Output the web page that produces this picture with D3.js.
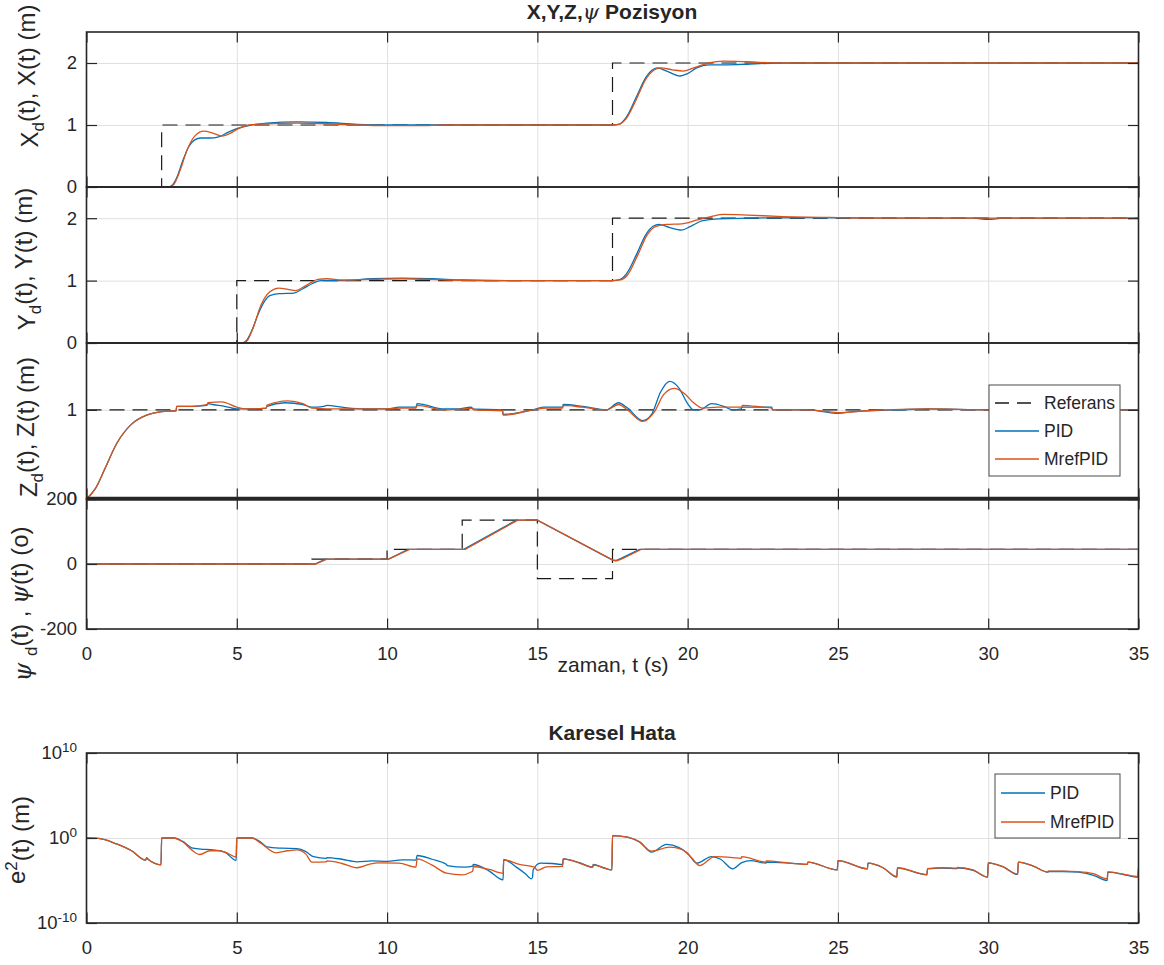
<!DOCTYPE html>
<html>
<head>
<meta charset="utf-8">
<script src="https://cdn.jsdelivr.net/npm/d3@7"></script>
<style>
  html, body { margin: 0; padding: 0; background: #fff; }
  svg { display: block; }
  text { font-family: "Liberation Sans", Arial, Helvetica, sans-serif; fill: #262626; }
</style>
</head>
<body>
<svg id="chart" width="1164" height="965"></svg>
<script>
// ---------------- data ----------------
const xTickVals = [0, 5, 10, 15, 20, 25, 30, 35];

// reference (step) signals: change times and values
const tRefX = [0, 2.5, 17.5, 35];            const refX = [0, 1, 2, 2];
const tRefY = [0, 5, 17.5, 35];              const refY = [0, 1, 2, 2];
const tRefZ = [0, 35];                       const refZ = [1, 1];
const tRefPsi = [0, 7.5, 10, 12.5, 15, 17.5, 35];
const refPsi  = [0, 15, 45, 135, -45, 45, 45];

// X position [t (s), m]
const xPID = [[0,0],[2.7,0],[2.85,0.03],[3.0,0.15],[3.2,0.42],[3.4,0.65],[3.6,0.76],[3.8,0.79],[4.1,0.79],[4.4,0.81],[4.7,0.88],[5.0,0.94],[5.4,0.99],[6.0,1.03],[7.0,1.05],[8.0,1.04],[9.0,1.01],[10,1.0],[12,1.0],[17.5,1.0],[17.7,1.01],[17.95,1.12],[18.3,1.46],[18.6,1.76],[18.8,1.88],[19.0,1.92],[19.3,1.87],[19.75,1.79],[20.0,1.83],[20.3,1.92],[20.7,1.97],[21.2,1.97],[22.0,1.98],[23,2.0],[26,2.0],[29,2.0],[35,2.0]];
const xMref = [[0,0],[2.75,0],[2.9,0.04],[3.1,0.25],[3.35,0.6],[3.6,0.82],[3.9,0.9],[4.2,0.87],[4.5,0.82],[4.8,0.87],[5.0,0.93],[5.4,1.0],[6.0,1.02],[7,1.03],[8,1.02],[9,1.0],[10,0.99],[11,0.99],[12,1.0],[17.5,1.0],[17.7,1.01],[17.95,1.1],[18.3,1.42],[18.6,1.73],[18.9,1.89],[19.1,1.92],[19.5,1.89],[19.85,1.87],[20.2,1.92],[20.7,2.0],[21.2,2.03],[22,2.02],[23,2.0],[35,2.0]];

// Y position [t (s), m]
const yPID = [[0,0],[5.15,0],[5.3,0.03],[5.5,0.2],[5.7,0.45],[5.9,0.65],[6.1,0.76],[6.4,0.79],[6.9,0.8],[7.2,0.87],[7.5,0.95],[7.8,1.0],[8.5,1.0],[9.5,1.03],[10.5,1.04],[11.5,1.03],[12.5,1.01],[14,1.0],[17.5,1.0],[17.7,1.01],[17.95,1.1],[18.3,1.42],[18.6,1.73],[18.85,1.87],[19.05,1.9],[19.4,1.85],[19.8,1.81],[20.1,1.87],[20.5,1.96],[21,1.99],[22,2.0],[24,2.01],[27,2.0],[29.5,2.0],[30,1.98],[30.5,2.0],[35,2.0]];
const yMref = [[0,0],[5.2,0],[5.35,0.04],[5.55,0.25],[5.8,0.6],[6.1,0.82],[6.4,0.88],[6.7,0.86],[6.95,0.84],[7.3,0.92],[7.7,1.02],[8.0,1.03],[8.5,1.01],[9.5,1.02],[10.5,1.03],[12,1.01],[14,1.0],[17.5,1.0],[17.75,1.01],[18.0,1.09],[18.35,1.42],[18.65,1.73],[18.95,1.87],[19.3,1.9],[19.8,1.91],[20.3,1.97],[20.8,2.03],[21.2,2.06],[22,2.05],[23,2.03],[25,2.01],[27,2.0],[35,2.0]];

// Z position [t (s), m]
const zPID = [[0,0],[0.3,0.12],[0.6,0.33],[1.0,0.62],[1.5,0.84],[2.0,0.94],[2.5,0.98],[2.98,0.99],[3.0,1.04],[3.5,1.04],[4.0,1.05],[4.05,1.07],[4.2,1.06],[4.6,1.04],[5.0,1.01],[5.5,1.01],[5.98,1.02],[6.0,1.04],[6.6,1.08],[7.2,1.06],[7.5,1.03],[7.9,1.04],[8.0,1.05],[8.5,1.03],[9.3,1.01],[10,1.01],[10.4,1.03],[10.96,1.03],[11.0,1.07],[11.9,1.01],[12.3,1.01],[12.8,1.03],[12.85,1.01],[13.84,1.0],[13.86,0.95],[14.86,1.0],[15.2,1.03],[15.84,1.03],[15.86,1.06],[16.5,1.04],[17.3,1.0],[17.7,1.08],[18.0,1.02],[18.5,0.88],[18.8,0.95],[19.1,1.2],[19.4,1.32],[19.7,1.25],[20.0,1.07],[20.2,1.0],[20.4,1.0],[20.8,1.07],[21.2,1.04],[21.5,1.0],[21.78,1.01],[21.8,1.03],[22.5,1.03],[22.8,1.03],[22.82,1.0],[24,1.0],[24.5,0.98],[25,0.96],[25.5,0.98],[26,0.99],[27,1.0],[28,1.01],[30,1.0],[35,1.0]];
const zMref = [[0,0],[0.3,0.12],[0.6,0.33],[1.0,0.62],[1.5,0.84],[2.0,0.94],[2.5,0.98],[2.98,0.99],[3.0,1.04],[3.5,1.04],[4.0,1.06],[4.05,1.08],[4.5,1.09],[5.0,1.03],[5.3,1.01],[5.98,1.02],[6.0,1.05],[6.7,1.1],[7.2,1.07],[7.5,1.02],[8.5,1.01],[9.3,1.01],[10,1.01],[10.4,1.02],[10.96,1.02],[11.0,1.05],[11.9,1.0],[12.5,1.01],[12.85,1.02],[12.87,1.0],[13.84,0.99],[13.86,0.94],[14.86,1.0],[15.3,1.02],[15.84,1.02],[15.86,1.05],[16.5,1.03],[17.3,1.0],[17.7,1.06],[18.0,1.0],[18.5,0.87],[18.9,0.98],[19.2,1.17],[19.55,1.24],[19.9,1.18],[20.2,1.08],[20.5,1.02],[21.0,1.03],[21.8,1.03],[21.82,1.05],[22.5,1.03],[22.8,1.02],[22.82,1.0],[24,1.0],[25,0.97],[26,0.99],[28,1.01],[30,1.0],[35,1.0]];

// yaw angle [t (s), deg]
const psiPID = [[0,0],[7.6,0],[7.95,15],[10.05,15],[10.7,45],[12.55,45],[14.3,135],[15.0,135],[17.5,12],[17.6,10],[17.8,18],[18.4,45],[35,45]];
const psiMref = [[0,0],[7.62,0],[8.0,15],[10.05,15],[10.75,45],[12.6,45],[14.35,135],[15.0,135],[17.5,13],[17.65,10],[17.85,17],[18.45,45],[35,45]];

// squared error, stored as log10(e^2) [t (s), exponent]
const errPID = [[0,0],[0.4,-0.05],[1.0,-0.7],[1.5,-1.5],[1.97,-2.6],[2.0,-2.3],[2.03,-2.45],[2.48,-3.15],[2.5,0.02],[2.9,0],[3.2,-0.4],[3.5,-1.15],[3.8,-1.3],[4.2,-1.4],[4.6,-1.65],[4.98,-2.65],[5.0,0.02],[5.5,0],[5.8,-0.5],[6.0,-1.05],[6.5,-1.2],[7.0,-1.25],[7.3,-1.6],[7.55,-2.2],[7.98,-2.4],[8.0,-2.3],[8.5,-2.5],[9.0,-2.8],[9.5,-2.7],[10.0,-2.75],[10.5,-2.57],[10.96,-2.6],[11.0,-2.06],[11.5,-2.5],[11.98,-3.12],[12.0,-3.24],[12.6,-3.43],[12.85,-3.3],[12.87,-3.12],[13.4,-3.9],[13.86,-4.92],[13.88,-2.53],[14.3,-3.43],[14.6,-4.2],[14.8,-4.8],[14.84,-4.6],[14.86,-3.75],[15.1,-2.96],[15.5,-3.0],[15.84,-3.12],[15.86,-2.45],[16.4,-2.9],[16.84,-3.43],[16.86,-3.12],[17.2,-3.5],[17.48,-3.75],[17.5,0.29],[18.0,0.1],[18.4,-0.45],[18.8,-1.67],[19.3,-0.76],[19.7,-1.1],[20.0,-1.8],[20.3,-2.96],[20.8,-2.18],[21.1,-2.5],[21.5,-3.63],[21.8,-2.9],[22.1,-2.65],[22.6,-2.96],[22.62,-2.84],[23.4,-2.96],[23.98,-3.1],[24.0,-2.84],[24.98,-3.75],[25.0,-2.65],[25.98,-3.63],[26.0,-2.96],[26.5,-3.5],[26.96,-4.61],[26.98,-3.55],[27.96,-4.33],[27.98,-3.63],[28.5,-3.55],[28.96,-3.6],[28.98,-3.5],[29.5,-3.8],[29.98,-4.61],[30.0,-2.92],[30.5,-3.4],[30.98,-4.29],[31.0,-2.84],[31.5,-3.3],[31.98,-4.02],[32.0,-3.94],[32.5,-3.94],[33.0,-4.02],[33.5,-4.4],[33.96,-5.0],[33.98,-4.02],[34.5,-4.3],[34.98,-4.61],[35,-3.63]];
const errMref = [[0,0],[0.4,-0.05],[1.0,-0.7],[1.5,-1.5],[1.97,-2.6],[2.0,-2.3],[2.03,-2.45],[2.48,-3.15],[2.5,0.02],[2.9,0],[3.2,-0.45],[3.5,-1.4],[3.77,-1.94],[4.1,-1.5],[4.4,-1.5],[4.7,-1.8],[4.98,-2.25],[5.0,0.02],[5.5,0],[5.8,-0.6],[6.3,-1.74],[6.7,-1.5],[7.0,-1.4],[7.3,-1.9],[7.5,-2.84],[7.98,-2.8],[8.0,-2.7],[8.5,-3.0],[9.0,-3.5],[9.4,-3.1],[9.7,-2.92],[10.4,-2.96],[10.96,-3.43],[11.0,-2.45],[11.5,-3.2],[11.98,-4.14],[12.5,-4.33],[12.8,-4.0],[12.85,-3.9],[12.87,-3.35],[13.4,-3.7],[13.86,-4.14],[13.88,-2.57],[14.4,-3.1],[14.9,-3.43],[15.0,-3.8],[15.3,-3.4],[15.84,-3.35],[15.86,-2.45],[16.4,-2.95],[16.84,-3.43],[16.86,-3.15],[17.2,-3.5],[17.48,-3.75],[17.5,0.29],[18.0,0.1],[18.4,-0.45],[18.8,-1.55],[19.4,-1.08],[19.8,-1.35],[20.1,-2.2],[20.4,-3.24],[20.9,-2.18],[21.5,-2.3],[21.78,-2.4],[21.8,-2.2],[22.6,-2.84],[22.62,-2.7],[23.4,-2.96],[23.98,-3.1],[24.0,-2.84],[24.98,-3.75],[25.0,-2.65],[25.98,-3.63],[26.0,-2.96],[26.5,-3.5],[26.96,-4.55],[26.98,-3.5],[27.96,-4.3],[27.98,-3.6],[28.5,-3.5],[28.96,-3.55],[28.98,-3.45],[29.5,-3.75],[29.98,-4.6],[30.0,-2.92],[30.5,-3.4],[30.98,-4.25],[31.0,-2.84],[31.5,-3.3],[31.98,-4.02],[32.0,-3.9],[32.5,-3.9],[33.0,-3.96],[33.5,-4.2],[33.96,-4.8],[33.98,-3.98],[34.5,-4.25],[34.98,-4.55],[35,-3.63]];

// ---------------- drawing ----------------
const INK = "#262626";
const BLUE = "#0072BD";
const ORANGE = "#D95319";
const GRID = "#e0e0e0";
const TICK_FONT = 18.5;
const TITLE_FONT = 21;
const YLABEL_FONT = 24;
const DASH = "15,8";

const svg = d3.select("#chart");
const X_LEFT = 86.5, X_RIGHT = 1138.5;
const x = d3.scaleLinear().domain([0, 35]).range([X_LEFT, X_RIGHT]);
let clipCount = 0;

function styleAxis(sel) {
  sel.select(".domain").remove();
  sel.selectAll(".tick line").attr("stroke", INK).attr("stroke-width", 1.2);
  sel.selectAll(".tick text").attr("fill", INK).style("font-size", TICK_FONT + "px")
     .style("font-family", '"Liberation Sans", Arial, sans-serif');
}

function drawPanel(o) {
  const { top, bottom, y, yTicks, yGrid, showX, series, yFormat } = o;
  const h = bottom - top, w = X_RIGHT - X_LEFT;
  const g = svg.append("g");

  // grid lines
  const gx = g.append("g").attr("transform", `translate(0,${bottom})`)
    .call(d3.axisBottom(x).tickValues(xTickVals.filter(v => v > 0 && v < 35)).tickSize(-h).tickFormat(""));
  const gy = g.append("g").attr("transform", `translate(${X_LEFT},0)`)
    .call(d3.axisLeft(y).tickValues(yGrid).tickSize(-w).tickFormat(""));
  [gx, gy].forEach(s => {
    s.select(".domain").remove();
    s.selectAll("line").attr("stroke", GRID).attr("stroke-width", 1);
  });

  // data lines
  const id = "clip" + (clipCount++);
  svg.append("clipPath").attr("id", id).append("rect")
    .attr("x", X_LEFT).attr("y", top - 1).attr("width", w).attr("height", h + 2);
  const lg = g.append("g").attr("clip-path", `url(#${id})`);
  series.forEach(s => {
    const line = d3.line()
      .x(d => x(d[0]))
      .y(d => y(s.log ? Math.pow(10, d[1]) : d[1]))
      .curve(s.curve || d3.curveMonotoneX);
    lg.append("path").datum(s.data).attr("d", line)
      .attr("fill", "none").attr("stroke", s.color)
      .attr("stroke-width", s.width || 1.3)
      .attr("stroke-dasharray", s.dash || null);
  });

  // box
  g.append("rect").attr("x", X_LEFT).attr("y", top).attr("width", w).attr("height", h)
    .attr("fill", "none").attr("stroke", INK).attr("stroke-width", 1.6);

  // tick marks (inside), labels left / bottom
  const T = 10.5;
  g.append("g").attr("transform", `translate(0,${top})`)
    .call(d3.axisTop(x).tickValues(xTickVals).tickSizeInner(-T).tickSizeOuter(0).tickFormat(""))
    .call(styleAxis);
  const xb = d3.axisBottom(x).tickValues(xTickVals).tickSizeInner(-T).tickSizeOuter(0).tickPadding(17.5)
    .tickFormat(d => String(d));
  if (!showX) xb.tickFormat("");
  g.append("g").attr("transform", `translate(0,${bottom})`).call(xb).call(styleAxis);

  const yl = d3.axisLeft(y).tickValues(yTicks).tickSizeInner(-T).tickSizeOuter(0).tickPadding(9.5)
    .tickFormat(yFormat || (d => String(d)));
  const gl = g.append("g").attr("transform", `translate(${X_LEFT},0)`).call(yl).call(styleAxis);
  g.append("g").attr("transform", `translate(${X_RIGHT},0)`)
    .call(d3.axisRight(y).tickValues(yTicks).tickSizeInner(-T).tickSizeOuter(0).tickFormat(""))
    .call(styleAxis);
  return { g, gl };
}

function refPairs(t, v) { return d3.zip(t, v); }

// panel 1: X
drawPanel({
  top: 32, bottom: 187, y: d3.scaleLinear().domain([0, 2.5]).range([187, 32]),
  yTicks: [0, 1, 2], yGrid: [1, 2],
  series: [
    { data: refPairs(tRefX, refX), color: "#1a1a1a", dash: DASH, curve: d3.curveStepAfter, width: 1.2 },
    { data: xPID, color: BLUE },
    { data: xMref, color: ORANGE }
  ]
});

// panel 2: Y
drawPanel({
  top: 187, bottom: 343, y: d3.scaleLinear().domain([0, 2.5]).range([343, 187]),
  yTicks: [0, 1, 2], yGrid: [1, 2],
  series: [
    { data: refPairs(tRefY, refY), color: "#1a1a1a", dash: DASH, curve: d3.curveStepAfter, width: 1.2 },
    { data: yPID, color: BLUE },
    { data: yMref, color: ORANGE }
  ]
});

// panel 3: Z
drawPanel({
  top: 343, bottom: 499, y: d3.scaleLinear().domain([0, 1.75]).range([499, 343]),
  yTicks: [0, 1], yGrid: [1],
  series: [
    { data: refPairs(tRefZ, refZ), color: "#1a1a1a", dash: DASH, curve: d3.curveStepAfter, width: 1.2 },
    { data: zPID, color: BLUE },
    { data: zMref, color: ORANGE }
  ]
});

// panel 4: yaw
drawPanel({
  top: 499, bottom: 629, y: d3.scaleLinear().domain([-200, 200]).range([629, 499]),
  yTicks: [-200, 0, 200], yGrid: [0], showX: true,
  series: [
    { data: refPairs(tRefPsi, refPsi), color: "#1a1a1a", dash: DASH, curve: d3.curveStepAfter, width: 1.2 },
    { data: psiPID, color: BLUE, curve: d3.curveLinear },
    { data: psiMref, color: ORANGE, curve: d3.curveLinear }
  ]
});

// heavy seam where the Z and yaw axes meet
svg.append("line").attr("x1", X_LEFT).attr("x2", X_RIGHT + 1).attr("y1", 498.8).attr("y2", 498.8)
  .attr("stroke", INK).attr("stroke-width", 4);

// panel 5: squared error (log)
const yLog = d3.scaleLog().domain([1e-10, 1e10]).range([923, 753]);
const p5 = drawPanel({
  top: 753, bottom: 923, y: yLog,
  yTicks: [1e-10, 1, 1e10], yGrid: [1], showX: true,
  yFormat: () => "10",
  series: [
    { data: errPID, color: BLUE, log: true },
    { data: errMref, color: ORANGE, log: true }
  ]
});
p5.gl.selectAll(".tick text").each(function (d) {
  const t = d3.select(this);
  t.text("10");
  t.append("tspan").attr("dy", "-0.55em").style("font-size", "13.5px").text(Math.round(Math.log10(d)));
});

// ---------------- titles & labels ----------------
function title(yPos, build) {
  const t = svg.append("text").attr("x", 612).attr("y", yPos).attr("text-anchor", "middle")
    .style("font-size", TITLE_FONT + "px").style("font-weight", "bold");
  build(t);
}
title(19, t => {
  t.append("tspan").text("X,Y,Z,");
  t.append("tspan").style("font-family", '"DejaVu Serif", serif').style("font-style", "italic")
    .style("font-weight", "normal").text("ψ");
  t.append("tspan").text(" Pozisyon");
});
title(740, t => t.text("Karesel Hata"));

svg.append("text").attr("x", 613).attr("y", 672).attr("text-anchor", "middle")
  .style("font-size", TITLE_FONT + "px").text("zaman, t (s)");

// rotated y labels built from [text, kind] parts
function ylabel(cx, cy, parts) {
  const t = svg.append("text").attr("transform", `translate(${cx},${cy}) rotate(-90)`)
    .attr("text-anchor", "middle").style("font-size", YLABEL_FONT + "px");
  parts.forEach(([s, k]) => {
    const sp = t.append("tspan").text(s);
    if (k === "sub") sp.attr("dy", "0.38em").style("font-size", "17px");
    if (k === "sup") sp.attr("dy", "-0.5em").style("font-size", "17px");
    if (k === "psi") sp.style("font-family", '"DejaVu Serif", serif').style("font-style", "italic");
    if (k === "back-sub") sp.attr("dy", "-0.38em");
    if (k === "back-sup") sp.attr("dy", "0.5em");
  });
}
ylabel(38, 76, [["X", "n"], ["d", "sub"], ["(t), X(t) (m)", "back-sub"]]);
ylabel(35, 259, [["Y", "n"], ["d", "sub"], ["(t), Y(t) (m)", "back-sub"]]);
ylabel(37, 427, [["Z", "n"], ["d", "sub"], ["(t), Z(t) (m)", "back-sub"]]);
ylabel(31, 604, [["ψ", "psi"], [" ", "n"], ["d", "sub"], ["(t) , ", "back-sub"], ["ψ", "psi"], ["(t) (o)", "n"]]);
ylabel(25, 840, [["e", "n"], ["2", "sup"], ["(t) (m)", "back-sup"]]);

// ---------------- legends ----------------
function legend(x0, y0, w, h, items) {
  const g = svg.append("g");
  g.append("rect").attr("x", x0).attr("y", y0).attr("width", w).attr("height", h)
    .attr("fill", "#fff").attr("stroke", "#4a4a4a").attr("stroke-width", 1);
  items.forEach(it => {
    g.append("line").attr("x1", x0 + 6).attr("x2", x0 + 50).attr("y1", it.y).attr("y2", it.y)
      .attr("stroke", it.color).attr("stroke-width", 1.3).attr("stroke-dasharray", it.dash || null);
    g.append("text").attr("x", x0 + 55).attr("y", it.y).attr("dy", "0.36em")
      .style("font-size", "17.5px").text(it.name);
  });
}
legend(989, 385, 131, 91, [
  { name: "Referans", color: "#1a1a1a", dash: "14,8", y: 403 },
  { name: "PID", color: BLUE, y: 431 },
  { name: "MrefPID", color: ORANGE, y: 459 }
]);
legend(995, 774, 125, 64, [
  { name: "PID", color: BLUE, y: 793 },
  { name: "MrefPID", color: ORANGE, y: 822 }
]);
</script>
</body>
</html>
